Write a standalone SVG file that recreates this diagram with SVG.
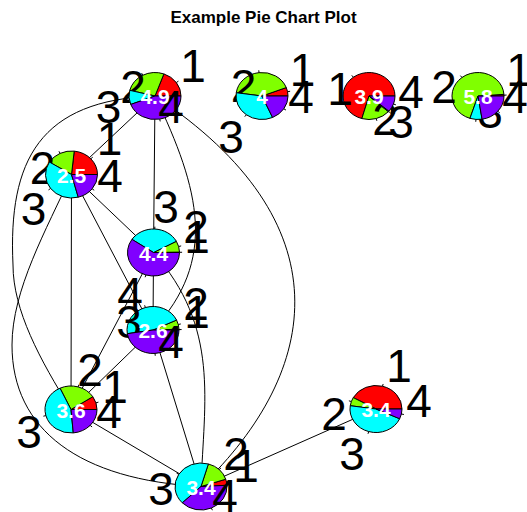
<svg xmlns="http://www.w3.org/2000/svg" width="527" height="512" viewBox="0 0 527 512">
<style>
.bg{fill:#fff}
.e{fill:none;stroke:#000;stroke-width:1}
.s{stroke:#000;stroke-width:1;vector-effect:non-scaling-stroke;stroke-linejoin:round}
.r{fill:#FF0000}.g{fill:#80FF00}.c{fill:#00FFFF}.p{fill:#8000FF}
.t{stroke:#000;stroke-width:1;vector-effect:non-scaling-stroke}
.lb{font-family:"Liberation Sans",Arial,sans-serif;font-size:46px;text-anchor:middle;fill:#000}
.v{font-family:"Liberation Sans",Arial,sans-serif;font-size:21px;font-weight:bold;text-anchor:middle;fill:#fff}
.title{font-family:"Liberation Sans",Arial,sans-serif;font-size:17px;font-weight:bold;text-anchor:middle;fill:#000}
</style>
<rect class="bg" x="0" y="0" width="527" height="512"/>
<text class="title" x="263.5" y="23">Example Pie Chart Plot</text>
<g id="edges">
<line class="e" x1="155" y1="96" x2="71.5" y2="174.5"/>
<line class="e" x1="155" y1="96" x2="153.5" y2="252.5"/>
<line class="e" x1="71.5" y1="174.5" x2="153.5" y2="252.5"/>
<line class="e" x1="71.5" y1="174.5" x2="153" y2="330"/>
<line class="e" x1="71.5" y1="174.5" x2="71" y2="409.5"/>
<line class="e" x1="153.5" y1="252.5" x2="153" y2="330"/>
<line class="e" x1="153.5" y1="252.5" x2="71" y2="409.5"/>
<line class="e" x1="153" y1="330" x2="71" y2="409.5"/>
<line class="e" x1="153" y1="330" x2="201" y2="486.5"/>
<line class="e" x1="71" y1="409.5" x2="201" y2="486.5"/>
<line class="e" x1="376" y1="409" x2="201" y2="486.5"/>
<path class="e" d="M155,96C200,190 218,260 153,330"/>
<path class="e" d="M153.5,252.5C220,328 204,400 201,486.5"/>
<path class="e" d="M155,96C345,222 322,370 201,486.5"/>
<path class="e" d="M155,96C40,100 8,160 13,265C13,310 40,360 71,409.5"/>
<path class="e" d="M71.5,174.5C46.5,229.5 12,290 12,345C12,430 80,480 201,486.5"/>
</g>
<g id="node-A" transform="translate(155,96)">
<g transform="scale(26,23.5)"><path class="s r" d="M0,0L1,0A1,1 0 0 0 .342,-.9397Z"/><line class="t" x1="1" x2="1.1" transform="rotate(-35)"/></g>
<text class="lb" x="38" y="-14">1</text>
<g transform="scale(26,23.5)"><path class="s g" d="M0,0L.342,-.9397A1,1 0 0 0 -.9703,-.2419Z"/><line class="t" x1="1" x2="1.1" transform="rotate(-118)"/></g>
<text class="lb" x="-22" y="7">2</text>
<g transform="scale(26,23.5)"><path class="s c" d="M0,0L-.9703,-.2419A1,1 0 0 0 -.9336,.3584Z"/><line class="t" x1="1" x2="1.1" transform="rotate(-183.5)"/></g>
<text class="lb" x="-46.5" y="27">3</text>
<g transform="scale(26,23.5)"><path class="s p" d="M0,0L-.9336,.3584A1,1 0 0 0 1,0Z"/><line class="t" x1="1" x2="1.1" transform="rotate(-280.5)"/></g>
<text class="lb" x="16" y="27">4</text>
<text class="v" x="0" y="8">4.9</text>
</g>
<g id="node-B" transform="translate(262,96)">
<g transform="scale(26,23.5)"><path class="s r" d="M0,0L1,0A1,1 0 0 0 .9336,-.3584Z"/><line class="t" x1="1" x2="1.1" transform="rotate(-10.5)"/></g>
<text class="lb" x="40.5" y="-10">1</text>
<g transform="scale(26,23.5)"><path class="s g" d="M0,0L.9336,-.3584A1,1 0 0 0 -.9903,-.1392Z"/><line class="t" x1="1" x2="1.1" transform="rotate(-96.5)"/></g>
<text class="lb" x="-18.5" y="6">2</text>
<g transform="scale(26,23.5)"><path class="s c" d="M0,0L-.9903,-.1392A1,1 0 0 0 .4067,.9135Z"/><line class="t" x1="1" x2="1.1" transform="rotate(-233)"/></g>
<text class="lb" x="-31" y="57">3</text>
<g transform="scale(26,23.5)"><path class="s p" d="M0,0L.4067,.9135A1,1 0 0 0 1,0Z"/><line class="t" x1="1" x2="1.1" transform="rotate(-327)"/></g>
<text class="lb" x="39" y="17">4</text>
<text class="v" x="0" y="8">4</text>
</g>
<g id="node-C" transform="translate(369,96)">
<g transform="scale(26,23.5)"><path class="s r" d="M0,0L1,0A1,1 0 1 0 -.2756,.9613Z"/><line class="t" x1="1" x2="1.1" transform="rotate(-127)"/></g>
<text class="lb" x="-29" y="9">1</text>
<g transform="scale(26,23.5)"><path class="s g" d="M0,0L-.2756,.9613A1,1 0 0 0 .7431,.6691Z"/><line class="t" x1="1" x2="1.1" transform="rotate(-286)"/></g>
<text class="lb" x="16" y="39">2</text>
<g transform="scale(26,23.5)"><path class="s c" d="M0,0L.7431,.6691A1,1 0 0 0 .766,.6428Z"/><line class="t" x1="1" x2="1.1" transform="rotate(-319)"/></g>
<text class="lb" x="32" y="42">3</text>
<g transform="scale(26,23.5)"><path class="s p" d="M0,0L.766,.6428A1,1 0 0 0 1,0Z"/><line class="t" x1="1" x2="1.1" transform="rotate(-340)"/></g>
<text class="lb" x="42" y="12">4</text>
<text class="v" x="0" y="8">3.9</text>
</g>
<g id="node-D" transform="translate(478,96)">
<g transform="scale(26,23.5)"><path class="s r" d="M0,0L1,0A1,1 0 0 0 .9976,-.0698Z"/><line class="t" x1="1" x2="1.1" transform="rotate(-2)"/></g>
<text class="lb" x="41" y="-10">1</text>
<g transform="scale(26,23.5)"><path class="s g" d="M0,0L.9976,-.0698A1,1 0 1 0 -.309,.9511Z"/><line class="t" x1="1" x2="1.1" transform="rotate(-128)"/></g>
<text class="lb" x="-34" y="7">2</text>
<g transform="scale(26,23.5)"><path class="s c" d="M0,0L-.309,.9511A1,1 0 0 0 .1564,.9877Z"/><line class="t" x1="1" x2="1.1" transform="rotate(-265.5)"/></g>
<text class="lb" x="12" y="32">3</text>
<g transform="scale(26,23.5)"><path class="s p" d="M0,0L.1564,.9877A1,1 0 0 0 1,0Z"/><line class="t" x1="1" x2="1.1" transform="rotate(-319.5)"/></g>
<text class="lb" x="37" y="17">4</text>
<text class="v" x="0" y="8">5.8</text>
</g>
<g id="node-E" transform="translate(71.5,174.5)">
<g transform="scale(26,23.5)"><path class="s r" d="M0,0L1,0A1,1 0 0 0 .1045,-.9945Z"/><line class="t" x1="1" x2="1.1" transform="rotate(-42)"/></g>
<text class="lb" x="38" y="-19.5">1</text>
<g transform="scale(26,23.5)"><path class="s g" d="M0,0L.1045,-.9945A1,1 0 0 0 -.848,-.5299Z"/><line class="t" x1="1" x2="1.1" transform="rotate(-116)"/></g>
<text class="lb" x="-29" y="9.5">2</text>
<g transform="scale(26,23.5)"><path class="s c" d="M0,0L-.848,-.5299A1,1 0 0 0 .2588,.9659Z"/><line class="t" x1="1" x2="1.1" transform="rotate(-216.5)"/></g>
<text class="lb" x="-38" y="50.5">3</text>
<g transform="scale(26,23.5)"><path class="s p" d="M0,0L.2588,.9659A1,1 0 0 0 1,0Z"/><line class="t" x1="1" x2="1.1" transform="rotate(-322.5)"/></g>
<text class="lb" x="38.5" y="17.5">4</text>
<text class="v" x="0" y="8">2.5</text>
</g>
<g id="node-F" transform="translate(153.5,252.5)">
<g transform="scale(26,23.5)"><path class="s r" d="M0,0L1,0A1,1 0 0 0 .9998,-.0175Z"/><line class="t" x1="1" x2="1.1" transform="rotate(-0.5)"/></g>
<text class="lb" x="43.5" y="0.5">1</text>
<g transform="scale(26,23.5)"><path class="s g" d="M0,0L.9998,-.0175A1,1 0 0 0 .8788,-.4772Z"/><line class="t" x1="1" x2="1.1" transform="rotate(-14.75)"/></g>
<text class="lb" x="42.5" y="-9.5">2</text>
<g transform="scale(26,23.5)"><path class="s c" d="M0,0L.8788,-.4772A1,1 0 0 0 -.829,-.5592Z"/><line class="t" x1="1" x2="1.1" transform="rotate(-87.25)"/></g>
<text class="lb" x="12.5" y="-29.5">3</text>
<g transform="scale(26,23.5)"><path class="s p" d="M0,0L-.829,-.5592A1,1 0 1 0 1,0Z"/><line class="t" x1="1" x2="1.1" transform="rotate(-253)"/></g>
<text class="lb" x="-23.5" y="57.5">4</text>
<text class="v" x="0" y="8">4.4</text>
</g>
<g id="node-G" transform="translate(153,330)">
<g transform="scale(26,23.5)"><path class="s r" d="M0,0L1,0A1,1 0 0 0 .9994,-.0349Z"/><line class="t" x1="1" x2="1.1" transform="rotate(-1)"/></g>
<text class="lb" x="44" y="-2">1</text>
<g transform="scale(26,23.5)"><path class="s g" d="M0,0L.9994,-.0349A1,1 0 0 0 .9063,-.4226Z"/><line class="t" x1="1" x2="1.1" transform="rotate(-13.5)"/></g>
<text class="lb" x="43" y="-10">2</text>
<g transform="scale(26,23.5)"><path class="s c" d="M0,0L.9063,-.4226A1,1 0 0 0 -.9877,.1564Z"/><line class="t" x1="1" x2="1.1" transform="rotate(-107)"/></g>
<text class="lb" x="-24" y="8">3</text>
<g transform="scale(26,23.5)"><path class="s p" d="M0,0L-.9877,.1564A1,1 0 0 0 1,0Z"/><line class="t" x1="1" x2="1.1" transform="rotate(-274.5)"/></g>
<text class="lb" x="18" y="28">4</text>
<text class="v" x="0" y="8">2.6</text>
</g>
<g id="node-H" transform="translate(71,409.5)">
<g transform="scale(26,23.5)"><path class="s r" d="M0,0L1,0A1,1 0 0 0 .8387,-.5446Z"/><line class="t" x1="1" x2="1.1" transform="rotate(-16.5)"/></g>
<text class="lb" x="44" y="-6.5">1</text>
<g transform="scale(26,23.5)"><path class="s g" d="M0,0L.8387,-.5446A1,1 0 0 0 -.4226,-.9063Z"/><line class="t" x1="1" x2="1.1" transform="rotate(-74)"/></g>
<text class="lb" x="19" y="-23.5">2</text>
<g transform="scale(26,23.5)"><path class="s c" d="M0,0L-.4226,-.9063A1,1 0 0 0 .0872,.9962Z"/><line class="t" x1="1" x2="1.1" transform="rotate(-195)"/></g>
<text class="lb" x="-42" y="38.5">3</text>
<g transform="scale(26,23.5)"><path class="s p" d="M0,0L.0872,.9962A1,1 0 0 0 1,0Z"/><line class="t" x1="1" x2="1.1" transform="rotate(-317.5)"/></g>
<text class="lb" x="38" y="18.5">4</text>
<text class="v" x="0" y="8">3.6</text>
</g>
<g id="node-I" transform="translate(376,409)">
<g transform="scale(26,23.5)"><path class="s r" d="M0,0L1,0A1,1 0 0 0 -.8746,-.4848Z"/><line class="t" x1="1" x2="1.1" transform="rotate(-75.5)"/></g>
<text class="lb" x="23" y="-27">1</text>
<g transform="scale(26,23.5)"><path class="s g" d="M0,0L-.8746,-.4848A1,1 0 0 0 -.9903,-.1392Z"/><line class="t" x1="1" x2="1.1" transform="rotate(-161.5)"/></g>
<text class="lb" x="-42" y="21">2</text>
<g transform="scale(26,23.5)"><path class="s c" d="M0,0L-.9903,-.1392A1,1 0 0 0 .91,.4147Z"/><line class="t" x1="1" x2="1.1" transform="rotate(-253.75)"/></g>
<text class="lb" x="-24" y="61">3</text>
<g transform="scale(26,23.5)"><path class="s p" d="M0,0L.91,.4147A1,1 0 0 0 1,0Z"/><line class="t" x1="1" x2="1.1" transform="rotate(-347.75)"/></g>
<text class="lb" x="43" y="8">4</text>
<text class="v" x="0" y="8">3.4</text>
</g>
<g id="node-J" transform="translate(201,486.5)">
<g transform="scale(26,23.5)"><path class="s r" d="M0,0L.9986,-.0523A1,1 0 0 0 .9511,-.309Z"/><line class="t" x1="1" x2="1.1" transform="rotate(-10.5)"/></g>
<text class="lb" x="45" y="-4.5">1</text>
<g transform="scale(26,23.5)"><path class="s g" d="M0,0L.9511,-.309A1,1 0 0 0 .284,-.9588Z"/><line class="t" x1="1" x2="1.1" transform="rotate(-45.75)"/></g>
<text class="lb" x="35" y="-16.5">2</text>
<g transform="scale(26,23.5)"><path class="s c" d="M0,0L.284,-.9588A1,1 0 0 0 -.7193,.6947Z"/><line class="t" x1="1" x2="1.1" transform="rotate(-148.75)"/></g>
<text class="lb" x="-40" y="18.5">3</text>
<g transform="scale(26,23.5)"><path class="s p" d="M0,0L-.7193,.6947A1,1 0 0 0 .9986,-.0523Z"/><line class="t" x1="1" x2="1.1" transform="rotate(-293.5)"/></g>
<text class="lb" x="24" y="25">4</text>
<text class="v" x="0" y="8">3.4</text>
</g>
</svg>
